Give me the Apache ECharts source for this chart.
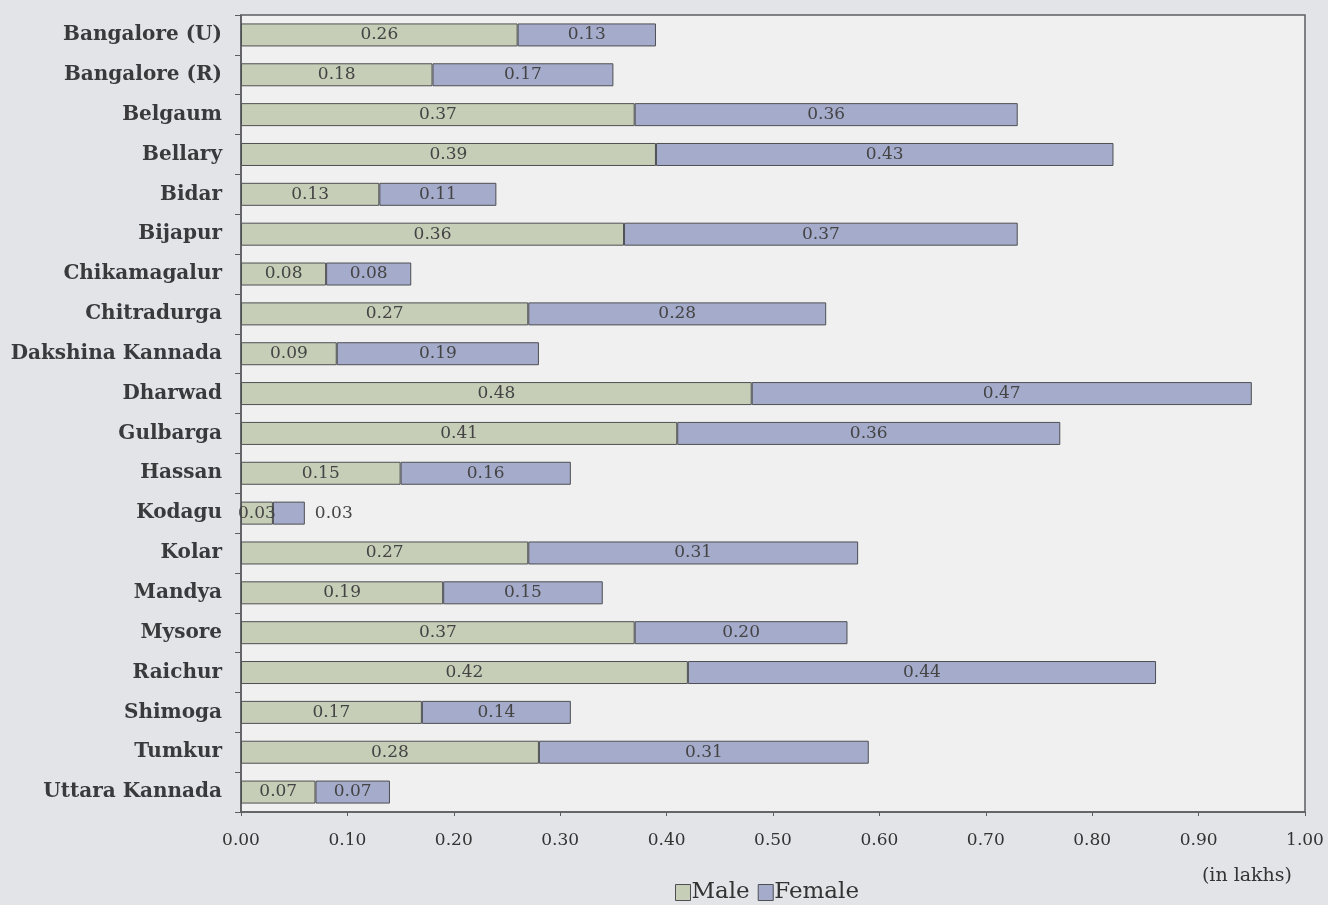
<!DOCTYPE html>
<html>
<head>
<meta charset="utf-8">
<script src="https://cdn.jsdelivr.net/npm/echarts@6/dist/echarts.min.js"></script>
<style>
  html, body { margin: 0; padding: 0; background: #e2e4e8; }
  #chart { width: 1328px; height: 905px; }
</style>
</head>
<body>
<div id="chart"></div>
<script>
// Districts of Karnataka, top to bottom
const districts = [
  'Bangalore (U)', 'Bangalore (R)', 'Belgaum', 'Bellary', 'Bidar', 'Bijapur',
  'Chikamagalur', 'Chitradurga', 'Dakshina Kannada', 'Dharwad', 'Gulbarga',
  'Hassan', 'Kodagu', 'Kolar', 'Mandya', 'Mysore', 'Raichur', 'Shimoga',
  'Tumkur', 'Uttara Kannada'
];
// Values in lakhs
const male = [0.26, 0.18, 0.37, 0.39, 0.13, 0.36, 0.08, 0.27, 0.09, 0.48,
              0.41, 0.15, 0.03, 0.27, 0.19, 0.37, 0.42, 0.17, 0.28, 0.07];
const female = [0.13, 0.17, 0.36, 0.43, 0.11, 0.37, 0.08, 0.28, 0.19, 0.47,
                0.36, 0.16, 0.03, 0.31, 0.15, 0.20, 0.44, 0.14, 0.31, 0.07];
const xTicks = [0, 0.1, 0.2, 0.3, 0.4, 0.5, 0.6, 0.7, 0.8, 0.9, 1.0];

const serif = '"DejaVu Serif", "Liberation Serif", serif';
const maleColor = '#c6ceb8';
const femaleColor = '#a5abcb';
const edge = '#4e4f52';

// Segments too narrow for their label get it placed beside the bar
const femaleData = female.map((v, i) => {
  if (male[i] + v < 0.1 && v < 0.05) {
    return { value: v, label: { position: 'right', distance: 10 } };
  }
  return v;
});

const chart = echarts.init(document.getElementById('chart'));
chart.setOption({
  backgroundColor: '#e2e4e8',
  animation: false,
  grid: {
    left: 241, right: 23, top: 15, bottom: 93,
    show: true, backgroundColor: '#f0f0f0', borderColor: '#5c5d60', borderWidth: 1.5
  },
  legend: {
    top: 876, left: 670,
    itemWidth: 15, itemHeight: 16, itemGap: 8,
    icon: 'rect',
    textStyle: { fontFamily: serif, fontSize: 23, color: '#333', padding: [0, 0, 0, -4] },
    data: [
      { name: 'Male', itemStyle: { color: maleColor, borderColor: edge, borderWidth: 1 } },
      { name: 'Female', itemStyle: { color: femaleColor, borderColor: edge, borderWidth: 1 } }
    ]
  },
  xAxis: {
    type: 'value', min: 0, max: 1, interval: 0.1,
    axisLine: { show: true, lineStyle: { color: '#5c5d60', width: 1.5 } },
    axisTick: { show: true, length: 4, lineStyle: { color: '#5c5d60' } },
    splitLine: { show: false },
    axisLabel: {
      margin: 20, fontFamily: serif, fontSize: 17, color: '#333',
      formatter: v => xTicks.find(t => Math.abs(t - v) < 1e-9).toFixed(2)
    }
  },
  yAxis: {
    type: 'category', data: districts, inverse: true,
    axisLine: { show: true, lineStyle: { color: '#5c5d60', width: 1.5 } },
    axisTick: { show: true, length: 6, lineStyle: { color: '#5c5d60' } },
    axisLabel: {
      margin: 19, fontFamily: serif, fontSize: 20, fontWeight: 'bold', color: '#3a3a3c'
    }
  },
  series: [
    {
      name: 'Male', type: 'bar', stack: 'total', data: male, barWidth: 23,
      itemStyle: { color: maleColor, borderColor: edge, borderWidth: 1 },
      label: {
        show: true, position: 'inside', fontFamily: serif, fontSize: 17, color: '#444',
        formatter: p => p.value.toFixed(2)
      }
    },
    {
      name: 'Female', type: 'bar', stack: 'total', data: femaleData, barWidth: 23,
      itemStyle: { color: femaleColor, borderColor: edge, borderWidth: 1 },
      label: {
        show: true, position: 'inside', fontFamily: serif, fontSize: 17, color: '#444',
        formatter: p => p.value.toFixed(2)
      }
    }
  ],
  graphic: [
    {
      type: 'text', right: 36, top: 867,
      style: { text: '(in lakhs)', fontFamily: serif, fontSize: 19, fill: '#333' }
    }
  ]
});
</script>
</body>
</html>
